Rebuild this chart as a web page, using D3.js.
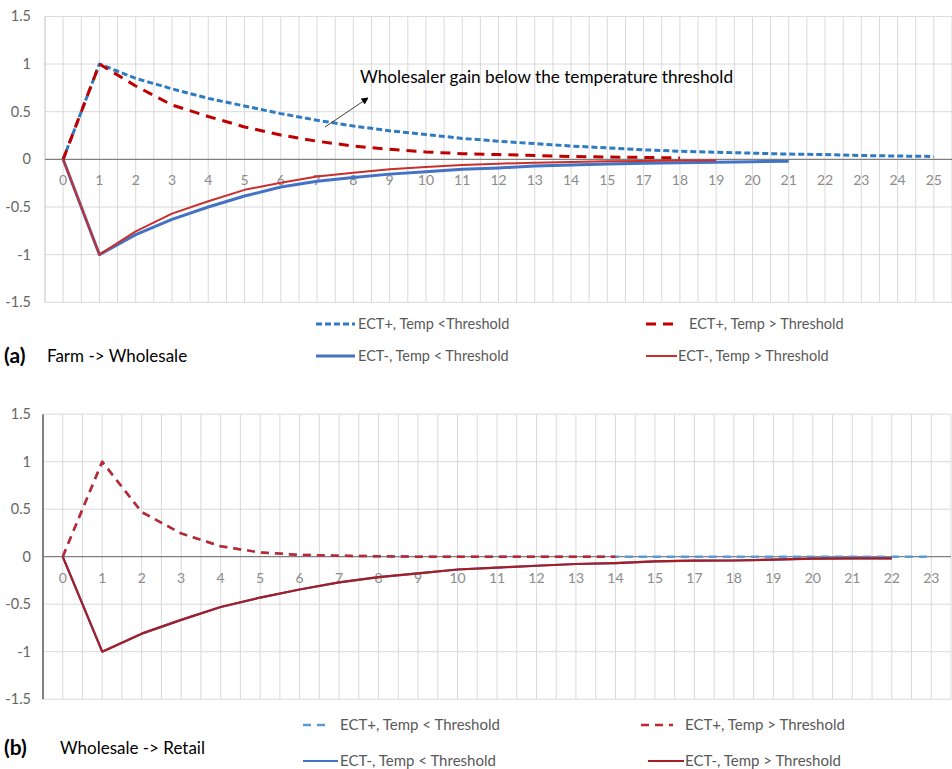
<!DOCTYPE html>
<html lang="en">
<head>
<meta charset="UTF-8">
<title>ECT impulse responses</title>
<script src="https://d3js.org/d3.v7.min.js"></script>
<style>
  body { margin: 0; background: #fff; }
  svg { display: block; font-family: Lato, "Open Sans", sans-serif; }
  .tick-y { font-size: 14.5px; fill: #666; }
  .tick-x { font-size: 14px; fill: #8c8c8c; }
  .legend { fill: #595959; }
</style>
</head>
<body>
<svg id="chart" width="952" height="769"></svg>
<script>
// categories (16 is missing in the source chart)
const catsA = ['0','1','2','3','4','5','6','7','8','9','10','11','12','13','14','15','17','18','19','20','21','22','23','24','25'];
const catsB = ['0','1','2','3','4','5','6','7','8','9','10','11','12','13','14','15','17','18','19','20','21','22','23'];
const yTicks = [-1.5, -1, -0.5, 0, 0.5, 1, 1.5];

// panel (a) Farm -> Wholesale
const aPlusLow  = [0, 1, 0.85, 0.74, 0.64, 0.56, 0.48, 0.41, 0.35, 0.30, 0.26, 0.22, 0.19, 0.165, 0.14, 0.12, 0.10, 0.085, 0.075, 0.065, 0.055, 0.05, 0.04, 0.035, 0.03];
const aPlusHigh = [0, 1, 0.77, 0.57, 0.45, 0.34, 0.255, 0.19, 0.14, 0.105, 0.077, 0.06, 0.05, 0.04, 0.03, 0.025, 0.02, 0.015];
const aMinusLow = [0, -1, -0.79, -0.63, -0.50, -0.385, -0.29, -0.23, -0.19, -0.155, -0.13, -0.105, -0.09, -0.07, -0.06, -0.05, -0.04, -0.035, -0.03, -0.025, -0.02];
const aMinusHigh = [0, -1, -0.755, -0.57, -0.44, -0.32, -0.245, -0.18, -0.14, -0.105, -0.08, -0.06, -0.045, -0.035, -0.028, -0.02, -0.018, -0.012, -0.01];

// panel (b) Wholesale -> Retail
const bPlusLow  = [0, 1, 0.47, 0.245, 0.11, 0.045, 0.02, 0.01, 0.005, 0, 0, 0, 0, 0, 0, 0, 0, 0, 0, 0, 0, 0, 0];
const bPlusHigh = [0, 1, 0.47, 0.245, 0.11, 0.045, 0.02, 0.01, 0.005, 0, 0, 0, 0, 0, 0];
const bMinusLow = [0, -1, -0.81, -0.665, -0.53, -0.43, -0.345, -0.27, -0.215, -0.175, -0.135, -0.115, -0.095, -0.077, -0.067, -0.05, -0.042, -0.04, -0.03, -0.02, -0.018, -0.018];
const bMinusHigh = [0, -1, -0.81, -0.665, -0.53, -0.43, -0.345, -0.27, -0.215, -0.175, -0.135, -0.115, -0.095, -0.077, -0.067, -0.05, -0.042, -0.04, -0.03, -0.02, -0.018, -0.018];

const svg = d3.select('#chart');

function panel(cfg) {
  const x = d3.scaleBand().domain(cfg.cats).range([cfg.left, cfg.right]);
  const y = d3.scaleLinear().domain([-1.5, 1.5]).range([cfg.bottom, cfg.top]);
  const g = svg.append('g');
  const step = x.step();

  // vertical gridlines at band edges and centres
  const vx = [];
  cfg.cats.forEach(c => { vx.push(x(c)); vx.push(x(c) + step / 2); });
  vx.push(cfg.right);
  g.selectAll('.vgrid').data(vx.slice(1)).join('line')
    .attr('x1', d => d).attr('x2', d => d)
    .attr('y1', y(1.5)).attr('y2', y(-1.5))
    .attr('stroke', '#d9d9d9').attr('stroke-width', 1);

  g.selectAll('.hgrid').data(yTicks.filter(d => d !== 0)).join('line')
    .attr('x1', cfg.left).attr('x2', cfg.right)
    .attr('y1', d => y(d)).attr('y2', d => y(d))
    .attr('stroke', '#d9d9d9').attr('stroke-width', 1);

  // value axis
  g.append('line')
    .attr('x1', cfg.left).attr('x2', cfg.left)
    .attr('y1', y(1.5)).attr('y2', y(-1.5))
    .attr('stroke', cfg.axisColor).attr('stroke-width', cfg.axisWidth);
  g.selectAll('.ty').data(yTicks).join('text')
    .attr('class', 'tick-y')
    .attr('x', 31).attr('y', d => y(d) + 5)
    .attr('text-anchor', 'end')
    .text(d => d3.format('')(d).replace('−', '-'));

  // category axis at zero
  g.append('line')
    .attr('x1', cfg.left).attr('x2', cfg.right)
    .attr('y1', y(0)).attr('y2', y(0))
    .attr('stroke', '#7f7f7f').attr('stroke-width', 1.2);
  g.selectAll('.tx').data(cfg.cats).join('text')
    .attr('class', 'tick-x')
    .attr('x', c => x(c) + step / 2).attr('y', y(0) + 26)
    .attr('text-anchor', 'middle')
    .text(c => c);

  const line = d3.line()
    .x((d, i) => x(cfg.cats[i]) + step / 2)
    .y(d => y(d));

  cfg.series.forEach(s => {
    g.append('path')
      .attr('d', line(s.values))
      .attr('fill', 'none')
      .attr('stroke', s.color)
      .attr('stroke-width', s.width)
      .attr('stroke-dasharray', s.dash || null)
      .attr('stroke-linejoin', 'round');
  });

  // legend
  cfg.legend.forEach(l => {
    g.append('line')
      .attr('x1', l.x1).attr('x2', l.x2).attr('y1', l.y).attr('y2', l.y)
      .attr('stroke', l.s.color).attr('stroke-width', l.s.width)
      .attr('stroke-dasharray', l.s.dash || null);
    g.append('text').attr('class', 'legend')
      .attr('font-size', cfg.legendSize)
      .attr('x', l.tx).attr('y', l.y + 5).text(l.s.name);
  });

  g.append('text').attr('x', 4).attr('y', cfg.labelY + 7)
    .attr('font-size', 21).attr('font-weight', 'bold').attr('fill', '#000')
    .text(cfg.tag);
  g.append('text').attr('x', cfg.titleX).attr('y', cfg.labelY + 6)
    .attr('font-size', 17).attr('fill', '#000')
    .text(cfg.title);

  return { x, y, step };
}

// panel (a)
const sA = {
  pl: { name: 'ECT+, Temp <Threshold', values: aPlusLow, color: '#2e7bc4', width: 3, dash: '6,3' },
  ph: { name: 'ECT+, Temp > Threshold', values: aPlusHigh, color: '#c00000', width: 3, dash: '10,7' },
  ml: { name: 'ECT-, Temp < Threshold', values: aMinusLow, color: '#4472c4', width: 3 },
  mh: { name: 'ECT-, Temp > Threshold', values: aMinusHigh, color: '#c9302c', width: 2 }
};
panel({
  cats: catsA, left: 45, right: 952, top: 16.4, bottom: 302.3,
  axisColor: '#bfbfbf', axisWidth: 1, legendSize: 14.5,
  series: [sA.ml, sA.mh, sA.pl, sA.ph],
  legend: [
    { s: sA.pl, x1: 316, x2: 355, tx: 358, y: 324 },
    { s: sA.ph, x1: 646, x2: 677, tx: 689, y: 324 },
    { s: sA.ml, x1: 316, x2: 355, tx: 358, y: 356 },
    { s: sA.mh, x1: 646, x2: 677, tx: 678, y: 356 }
  ],
  tag: '(a)', title: 'Farm -> Wholesale', titleX: 47, labelY: 356
});

// annotation in panel (a)
svg.append('defs').append('marker')
  .attr('id', 'arrow').attr('viewBox', '0 0 10 10')
  .attr('refX', 9).attr('refY', 5)
  .attr('markerWidth', 7).attr('markerHeight', 7)
  .attr('orient', 'auto')
  .append('path').attr('d', 'M0,0 L10,5 L0,10 z').attr('fill', '#000');
svg.append('line')
  .attr('x1', 325).attr('y1', 127).attr('x2', 368).attr('y2', 98)
  .attr('stroke', '#404040').attr('stroke-width', 1)
  .attr('marker-end', 'url(#arrow)');
svg.append('text')
  .attr('x', 360).attr('y', 83)
  .attr('font-size', 17).attr('fill', '#000')
  .attr('textLength', 373).attr('lengthAdjust', 'spacingAndGlyphs')
  .text('Wholesaler gain below the temperature threshold');

// panel (b)
const sB = {
  pl: { name: 'ECT+, Temp < Threshold', values: bPlusLow, color: '#5b9bd5', width: 2.5, dash: '8,6' },
  ph: { name: 'ECT+, Temp > Threshold', values: bPlusHigh, color: '#c0262d', width: 2.5, dash: '8,6' },
  ml: { name: 'ECT-, Temp < Threshold', values: bMinusLow, color: '#4472c4', width: 2.2 },
  mh: { name: 'ECT-, Temp > Threshold', values: bMinusHigh, color: '#a81c24', width: 2.2 }
};
panel({
  cats: catsB, left: 43, right: 951, top: 414.2, bottom: 699.2,
  axisColor: '#808080', axisWidth: 2, legendSize: 15,
  series: [sB.pl, sB.ph, sB.ml, sB.mh],
  legend: [
    { s: sB.pl, x1: 303, x2: 329, tx: 340, y: 725 },
    { s: sB.ph, x1: 641, x2: 673, tx: 685, y: 725 },
    { s: sB.ml, x1: 303, x2: 338, tx: 340, y: 761 },
    { s: sB.mh, x1: 648, x2: 684, tx: 685, y: 761 }
  ],
  tag: '(b)', title: 'Wholesale -> Retail', titleX: 60, labelY: 748
});
</script>
</body>
</html>
